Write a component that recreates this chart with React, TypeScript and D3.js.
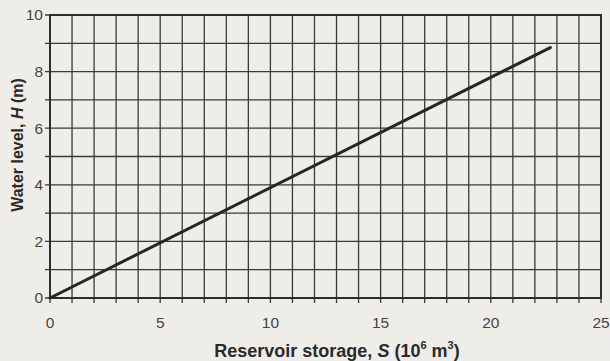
import React from 'react';
import * as d3 from 'd3';

// storage S (10^6 m3) vs water level H (m)
const storage = [0, 22.7];
const level = [0, 8.85];
const xTicks = [0, 5, 10, 15, 20, 25];
const yTicks = [0, 2, 4, 6, 8, 10];

const W = 610;
const H = 361;
const margin = { top: 15, right: 9, bottom: 63, left: 50 };

const App = () => {
    const x = d3.scaleLinear().domain([0, 25]).range([margin.left, W - margin.right]);
    const y = d3.scaleLinear().domain([0, 10]).range([H - margin.bottom, margin.top]);

    const line = d3.line<number>()
        .x((d, i) => x(storage[i]))
        .y(d => y(d));

    const gridX = d3.range(0, 26);
    const gridY = d3.range(0, 11);
    const ink = '#3a3a3a';
    const font = 'Liberation Sans, Arial, Helvetica, sans-serif';

    return (
        <svg width={W} height={H} style={{ position: 'absolute', left: 0, top: 0, background: '#efede8' }}>
            <rect x={0} y={0} width={W} height={H} fill="#efede8" />
            {/* vertical grid, running a bit below the axis as ticks */}
            {gridX.map(v => (
                <line key={'vx' + v} x1={x(v)} x2={x(v)} y1={y(10)} y2={y(0) + 5}
                    stroke={ink} strokeWidth={1.3} />
            ))}
            {gridY.map(v => (
                <line key={'hy' + v} x1={x(0) - 5} x2={x(25)} y1={y(v)} y2={y(v)}
                    stroke={ink} strokeWidth={1.3} />
            ))}
            <rect x={x(0)} y={y(10)} width={x(25) - x(0)} height={y(0) - y(10)}
                fill="none" stroke="#2e2e2e" strokeWidth={2} />

            <path d={line(level) || ''} fill="none" stroke="#262626" strokeWidth={3} strokeLinecap="round" />

            {xTicks.map(v => (
                <text key={'xt' + v} x={x(v)} y={y(0) + 30} textAnchor="middle"
                    fontFamily={font} fontSize={15.5} fill="#444">{v}</text>
            ))}
            {yTicks.map(v => (
                <text key={'yt' + v} x={x(0) - 7} y={y(v)} dy="0.35em" textAnchor="end"
                    fontFamily={font} fontSize={15.5} fill="#444">{v}</text>
            ))}

            <text x={337} y={357} textAnchor="middle" fontFamily={font} fontSize={18}
                fontWeight="bold" fill="#2a2a2a">
                Reservoir storage, <tspan fontStyle="italic">S</tspan> (10
                <tspan fontSize={11} dy={-8}>6</tspan>
                <tspan dy={8}> m</tspan>
                <tspan fontSize={11} dy={-8}>3</tspan>
                <tspan dy={8}>)</tspan>
            </text>
            <text transform="translate(23,145) rotate(-90)" textAnchor="middle" fontFamily={font}
                fontSize={16} fontWeight="bold" fill="#2a2a2a">
                Water level, <tspan fontStyle="italic">H</tspan> (m)
            </text>
        </svg>
    );
};

export default App;
